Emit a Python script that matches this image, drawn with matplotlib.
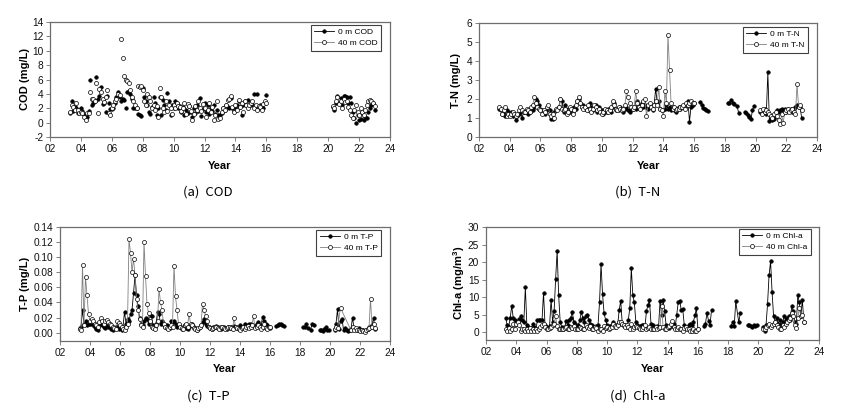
import numpy as np
import matplotlib
matplotlib.use("Agg")
import matplotlib.pyplot as plt
from matplotlib.lines import Line2D

# ---------------- sampling dates (years since 2000) ----------------
DATES_A = [3.3, 3.4, 3.5, 3.6, 3.7, 3.8, 3.9,
           4.0, 4.1, 4.2, 4.3, 4.4, 4.5, 4.6, 4.7, 4.8, 4.9,
           5.0, 5.1, 5.2, 5.3, 5.4, 5.5, 5.6, 5.7, 5.8, 5.9,
           6.0, 6.1, 6.2, 6.3, 6.4, 6.5, 6.6, 6.7, 6.8, 6.9,
           7.0, 7.1, 7.2, 7.3, 7.4, 7.5, 7.6, 7.7, 7.8, 7.9,
           8.0, 8.1, 8.2, 8.3, 8.4, 8.5, 8.6, 8.7, 8.8, 8.9,
           9.0, 9.1, 9.2, 9.3, 9.4, 9.5, 9.6, 9.7, 9.8, 9.9,
           10.0, 10.1, 10.2, 10.3, 10.4, 10.5, 10.6, 10.7, 10.8, 10.9,
           11.0, 11.1, 11.2, 11.3, 11.4, 11.5, 11.6, 11.7, 11.8, 11.9,
           12.0, 12.1, 12.2, 12.3, 12.4, 12.5, 12.6, 12.7, 12.8, 12.9,
           13.0, 13.1, 13.2, 13.3, 13.4, 13.5, 13.6, 13.7, 13.8, 13.9,
           14.0, 14.1, 14.2, 14.3, 14.4, 14.5, 14.6, 14.7, 14.8, 14.9,
           15.0, 15.1, 15.2, 15.3, 15.4, 15.5, 15.6, 15.7, 15.8, 15.9,
           16.0]
DATES_C1 = [16.4, 16.5, 16.6, 16.7, 16.8, 16.9]
DATES_C2 = [18.2, 18.3, 18.4, 18.5, 18.6, 18.7, 18.8, 18.9]
DATES_C3 = [19.3, 19.4, 19.5, 19.6, 19.7, 19.8, 19.9]
DATES_B = [20.3, 20.4, 20.5, 20.6, 20.7, 20.8, 20.9,
           21.0, 21.1, 21.2, 21.3, 21.4, 21.5, 21.6, 21.7, 21.8, 21.9,
           22.0, 22.1, 22.2, 22.3, 22.4, 22.5, 22.6, 22.7, 22.8, 22.9,
           23.0]
NA = float("nan")

YEAR_TICKS = [2, 4, 6, 8, 10, 12, 14, 16, 18, 20, 22, 24]
YEAR_LABELS = ["02", "04", "06", "08", "10", "12", "14", "16", "18", "20", "22", "24"]

# ---------------- (a) COD ----------------
COD_0M_A = [1.4, 3.0, 1.6, 2.2, 2.0, 1.3, 1.7,
            2.0, 1.6, 1.2, 0.8, 0.8, 1.6, 5.9, 2.5, 2.8, 3.0,
            6.3, 3.3, 3.7, 5.0, 2.6, 2.7, 1.5, 3.7, 2.8, 1.9,
            1.9, 2.0, 2.8, 3.5, 4.2, 3.6, 3.0, 3.3, 3.1, 2.1,
            4.3, 4.4, 4.0, 3.3, 2.0, 2.1, 2.0, 1.2, 1.0, 0.9,
            4.8, 3.5, 3.0, 2.5, 1.5, 1.2, 2.2, 3.5, 2.8, 1.0,
            2.0, 3.5, 1.0, 3.2, 2.5, 1.8, 4.1, 3.0, 1.0, 2.5,
            2.0, 3.0, 2.8, 2.0, 2.3, 1.5, 2.2, 1.0, 1.8, 1.4,
            2.3, 1.5, 0.8, 2.0, 1.3, 2.4, 1.6, 3.4, 0.9, 1.9,
            2.7, 1.5, 2.5, 1.2, 2.0, 1.6, 2.4, 1.2, 1.8, 1.0,
            1.0, 1.4, 2.0, 1.8, 2.5, 2.2, 2.0, 3.4, 2.0, 1.6,
            2.2, 2.5, 3.0, 2.2, 1.0, 2.5, 3.0, 2.5, 3.2, 2.4,
            2.4, 2.6, 4.0, 2.0, 4.0, 2.0, 2.4, 2.2, 2.0, 2.8,
            3.8]
COD_40M_A = [1.5, 2.5, 2.2, 1.8, 2.8, 1.8, 1.3,
             1.5, 1.3, 0.8, 0.3, 1.3, 1.3, 4.3, 3.3, 3.3, 3.0,
             5.5, 1.4, 4.7, 4.2, 3.3, 2.9, 3.6, 4.5, 1.3, 1.1,
             2.0, 2.5, 3.0, 3.3, 4.0, 3.8, 11.7, 9.0, 6.5, 6.0,
             5.8, 5.5, 4.6, 3.5, 3.0, 2.5, 2.0, 5.1, 5.0, 5.1,
             4.5, 3.0, 2.5, 4.0, 3.5, 3.0, 2.0, 2.5, 1.8, 2.3,
             0.8, 4.8, 3.5, 2.0, 1.5, 3.0, 1.6, 2.5, 2.0, 1.2,
             2.5, 2.0, 2.8, 2.3, 2.2, 1.6, 2.0, 2.8, 1.2, 2.6,
             2.3, 1.6, 0.4, 1.2, 2.3, 1.8, 3.0, 2.0, 1.6, 2.6,
             2.0, 0.8, 1.8, 2.8, 1.5, 2.2, 0.3, 1.0, 3.0, 0.5,
             0.6, 1.5, 2.0, 1.8, 2.5, 3.1, 3.3, 3.7, 2.2, 1.5,
             2.5, 1.8, 3.2, 2.2, 2.7, 1.5, 3.0, 2.4, 2.0, 2.5,
             2.8, 3.0, 2.0, 2.5, 1.7, 2.3, 2.2, 1.8, 2.6, 3.0,
             2.7]
COD_0M_B = [2.2, 1.8, 2.7, 3.7, 2.8, 3.4, 2.5,
            3.7, 3.7, 3.5, 2.7, 3.6, 2.8, 1.5, 0.6, 0.0, 1.1,
            0.3, 0.5, 1.3, 0.3, 0.8, 0.7, 1.5, 2.0, 2.5, 2.8,
            1.8]
COD_40M_B = [2.3, 2.0, 3.0, 3.5, 2.6, 3.0, 2.0,
             3.3, 2.9, 3.0, 2.2, 1.8, 1.0, 0.7, 1.8, 2.5, 1.5,
             1.1, 2.0, 1.5, 1.0, 1.8, 2.5, 3.0, 3.1, 3.0, 2.7,
             2.3]

# ---------------- (b) T-N ----------------
TN_0M_A = [1.5, 1.4, 1.2, 1.3, 1.1, 1.4, 1.3,
           1.2, 1.3, 1.1, 1.2, 0.9, 1.1, 1.2, 1.3, 1.0, 1.3,
           1.3, 1.4, 1.2, 1.3, 1.5, 1.4, 1.6, 2.0, 1.9, 1.7,
           1.5, 1.4, 1.3, 1.2, 1.4, 1.5, 1.4, 0.95, 0.95, 1.3,
           1.4, 1.5, 1.6, 2.0, 1.9, 1.3, 1.7, 1.4, 1.5, 1.3,
           1.4, 1.3, 1.6, 1.5, 1.9, 2.0, 1.8, 1.6, 1.7, 1.5,
           1.5, 1.4, 1.8, 1.6, 1.4, 1.5, 1.7, 1.3, 1.6, 1.4,
           1.4, 1.2, 1.3, 1.3, 1.5, 1.4, 1.3, 1.6, 1.8, 1.4,
           1.5, 1.4, 1.6, 1.5, 1.3, 1.5, 1.6, 1.4, 1.3, 1.5,
           1.5, 1.6, 1.5, 1.9, 1.7, 1.5, 1.8, 1.6, 1.7, 1.6,
           1.5, 1.7, 1.6, 1.4, 1.7, 2.55, 1.8, 1.9, 1.5, 1.4,
           1.4, 1.5, 1.7, 1.5, 1.6, 1.4, 1.6, 1.4, 1.3, 1.5,
           1.6, 1.5, 1.6, 1.6, 1.6, 1.7, 1.9, 0.8, 1.6, 1.7,
           1.8]
TN_40M_A = [1.6, 1.5, 1.2, 1.4, 1.6, 1.1, 1.2,
            1.1, 1.2, 1.3, 1.2, 1.1, 1.2, 1.4, 1.6, 1.4, 1.3,
            1.3, 1.5, 1.4, 1.3, 1.6, 1.7, 2.1, 1.8, 1.6, 1.5,
            1.4, 1.2, 1.4, 1.3, 1.6, 1.7, 1.2, 1.1, 1.2, 1.0,
            1.5, 1.4, 1.6, 2.0, 1.5, 1.4, 1.5, 1.2, 1.3, 1.6,
            1.5, 1.2, 1.4, 1.7, 1.9, 2.1, 1.8, 1.6, 1.5, 1.6,
            1.4, 1.7, 1.5, 1.3, 1.5, 1.7, 1.6, 1.4, 1.5, 1.3,
            1.2, 1.3, 1.5, 1.4, 1.3, 1.4, 1.6, 1.9, 1.7, 1.5,
            1.4, 1.6, 1.5, 1.4, 1.5, 1.7, 2.4, 2.1, 1.8, 1.6,
            1.5, 1.6, 2.4, 1.8, 1.6, 1.5, 1.7, 1.9, 2.0, 1.1,
            1.7, 1.8, 1.6, 1.5, 1.7, 1.9, 1.7, 2.65, 1.5, 1.4,
            1.1, 2.4, 1.8, 5.35, 3.55, 1.8, 1.5, 1.6, 1.4, 1.5,
            1.5, 1.6, 1.6, 1.7, 1.5, 1.8, 1.7, 1.8, 1.9, 1.8,
            1.8]
TN_0M_C1 = [1.85, 1.7, 1.55, 1.45, 1.4, 1.35]
TN_0M_C2 = [1.8, 1.8, 1.95, 1.8, 1.75, NA, 1.65, 1.25]
TN_0M_C3 = [1.3, 1.25, 1.15, 1.05, 0.95, 1.4, 1.65]
TN_0M_B = [1.3, 1.25, 1.3, 1.5, 1.2, 3.4, 0.85,
           1.0, 0.9, 0.95, 1.1, 1.4, 1.3, 1.4, 1.45, 1.4, 1.5,
           1.3, 1.5, 1.4, 1.45, 1.3, 1.5, 1.6, 1.7, 1.6, 1.6,
           1.0]
TN_40M_B = [1.4, 1.2, 1.5, 1.3, 1.4, 1.3, 1.2,
            1.1, 1.0, 1.2, 1.3, 1.1, 0.9, 0.7, 1.2, 0.75, 1.3,
            1.4, 1.5, 1.3, 1.4, 1.5, 1.3, 1.2, 2.8, 1.6, 1.7,
            1.4]

# ---------------- (c) T-P ----------------
TP_0M_A = [0.006, 0.008, 0.030, 0.012, 0.015, 0.010, 0.012,
           0.012, 0.015, 0.010, 0.008, 0.005, 0.003, 0.010, 0.012, 0.010, 0.008,
           0.006, 0.010, 0.008, 0.007, 0.005, 0.004, 0.006, 0.008, 0.007, 0.005,
           0.006, 0.004, 0.008, 0.028, 0.012, 0.018, 0.015, 0.025, 0.030, 0.052,
           0.076, 0.050, 0.035, 0.020, 0.012, 0.010, 0.015, 0.020, 0.018, 0.012,
           0.023, 0.022, 0.010, 0.008, 0.012, 0.027, 0.025, 0.012, 0.015, 0.010,
           0.008, 0.010, 0.008, 0.006, 0.015, 0.014, 0.016, 0.012, 0.008, 0.010,
           0.007, 0.005, 0.008, 0.010, 0.006, 0.005, 0.007, 0.010, 0.012, 0.008,
           0.006, 0.004, 0.005, 0.008, 0.010, 0.014, 0.018, 0.012, 0.009, 0.008,
           0.006, 0.005, 0.007, 0.008, 0.009, 0.007, 0.006, 0.005, 0.007, 0.008,
           0.006, 0.005, 0.008, 0.006, 0.007, 0.008, 0.009, 0.007, 0.006, 0.008,
           0.010, 0.008, 0.007, 0.012, 0.009, 0.010, 0.011, 0.012, 0.010, 0.009,
           0.008, 0.012, 0.014, 0.010, 0.008, 0.021, 0.015, 0.012, 0.010, 0.008,
           0.006]
TP_40M_A = [0.005, 0.004, 0.090, 0.010, 0.074, 0.050, 0.025,
            0.016, 0.018, 0.015, 0.012, 0.010, 0.008, 0.014, 0.019, 0.016, 0.012,
            0.015, 0.017, 0.014, 0.012, 0.010, 0.008, 0.006, 0.005, 0.015, 0.013,
            0.010, 0.007, 0.005, 0.004, 0.008, 0.012, 0.124, 0.106, 0.080, 0.098,
            0.076, 0.045, 0.030, 0.018, 0.010, 0.008, 0.120, 0.075, 0.038, 0.026,
            0.015, 0.008, 0.006, 0.005, 0.010, 0.015, 0.058, 0.040, 0.030, 0.012,
            0.008, 0.006, 0.005, 0.007, 0.010, 0.008, 0.089, 0.048, 0.030, 0.012,
            0.008, 0.006, 0.005, 0.010, 0.012, 0.008, 0.025, 0.012, 0.010, 0.006,
            0.005, 0.004, 0.006, 0.008, 0.010, 0.038, 0.030, 0.022, 0.015, 0.008,
            0.006, 0.005, 0.006, 0.008, 0.007, 0.006, 0.005, 0.007, 0.008, 0.006,
            0.005, 0.006, 0.007, 0.008, 0.006, 0.005, 0.019, 0.008, 0.006, 0.005,
            0.004, 0.006, 0.008, 0.005, 0.007, 0.009, 0.006, 0.008, 0.010, 0.022,
            0.006, 0.008, 0.010, 0.007, 0.005, 0.008, 0.012, 0.006, 0.005, 0.008,
            0.007]
TP_0M_C1 = [0.009, 0.010, 0.011, 0.012, 0.010, 0.009]
TP_0M_C2 = [0.008, 0.007, 0.012, 0.006, NA, 0.004, 0.011, 0.010]
TP_0M_C3 = [0.003, 0.004, 0.002, 0.005, 0.007, 0.004, 0.003]
TP_0M_B = [0.004, 0.012, 0.031, 0.005, 0.016, 0.018, 0.004,
           0.006, 0.003, 0.002, 0.003, 0.005, 0.020, 0.006, 0.005, 0.004, 0.006,
           0.003, 0.004, 0.003, 0.002, 0.004, 0.005, 0.007, 0.008, 0.010, 0.020,
           0.005]
TP_40M_B = [0.005, 0.008, 0.006, NA, 0.033, NA, NA,
            NA, NA, NA, NA, 0.003, 0.008, 0.004, 0.006, 0.003, 0.004,
            0.002, 0.003, 0.002, 0.001, 0.003, 0.005, 0.006, 0.045, 0.008, 0.012,
            0.006]

# ---------------- (d) Chl-a ----------------
CHL_0M_A = [4.2, 2.0, 1.5, 4.2, 7.5, 4.0, 3.5,
            2.5, 3.0, 3.8, 4.5, 3.5, 3.0, 12.8, 2.0, 1.5, 1.0,
            1.2, 2.5, 1.5, 1.0, 3.4, 3.5, 3.5, 3.4, 11.3, 2.0,
            1.5, 1.2, 1.8, 9.3, 3.0, 6.0, 15.2, 23.2, 10.6, 3.0,
            1.5, 1.0, 1.5, 3.2, 2.0, 3.5, 4.2, 5.8, 3.0, 2.5,
            1.5, 2.0, 3.5, 5.8, 4.0, 3.0, 4.5, 5.0, 3.5, 2.5,
            2.0, 1.5, 1.2, 1.8, 2.0, 8.5, 19.5, 10.8, 5.5, 3.5,
            2.0, 1.5, 1.8, 2.0, 3.0, 1.5, 2.0, 2.2, 6.3, 9.0,
            2.5, 1.8, 2.0, 1.5, 3.5, 6.8, 18.3, 10.5, 8.5, 3.0,
            2.0, 1.5, 1.8, 2.2, 2.0, 1.5, 6.0, 7.8, 9.2, 2.5,
            2.0, 1.5, 1.2, 1.8, 1.5, 9.0, 5.0, 9.3, 6.0, 2.0,
            1.5, 1.2, 2.0, 1.8, 2.5, 1.5, 5.0, 8.5, 9.0, 6.3,
            6.5, 2.0, 1.5, 1.2, 2.0, 2.5, 2.2, 3.0, 4.8, 6.8,
            1.0]
CHL_40M_A = [0.8, 0.5, 1.2, 0.5, 0.8, 2.5, 1.0,
             2.5, 3.0, 2.0, 0.5, 0.8, 1.0, 0.5, 0.8, 0.4, 1.2,
             0.5, 0.8, 0.3, 1.0, 0.5, 0.8, 1.5, 2.0, 2.5, 1.5,
             1.0, 0.8, 1.2, 1.5, 2.0, 2.5, 4.5, 1.8, 1.0, 0.8,
             1.0, 0.8, 1.2, 1.5, 0.8, 1.0, 1.5, 1.2, 1.8, 0.8,
             1.0, 0.8, 1.5, 1.2, 1.0, 0.8, 2.2, 1.5, 1.2, 1.8,
             1.0, 0.8, 1.5, 1.2, 0.5, 0.8, 1.0, 0.5, 1.8, 1.2,
             1.5, 0.8, 1.2, 1.5, 2.5, 1.8, 1.5, 2.0, 2.8, 3.0,
             2.5, 2.0, 1.5, 2.2, 1.5, 0.8, 2.5, 1.0, 1.5, 1.8,
             1.5, 1.2, 0.8, 1.0, 1.5, 2.0, 0.8, 1.2, 1.5, 1.0,
             0.8, 1.0, 1.5, 0.8, 1.2, 1.5, 7.5, 1.5, 0.8, 1.0,
             1.5, 1.8, 2.5, 3.2, 1.5, 1.0, 0.8, 1.5, 1.0, 0.8,
             0.5, 1.2, 1.5, 1.0, 0.8, 0.5, 0.3, 0.8, 0.5, 0.3,
             0.8]
CHL_0M_C1 = [1.8, 2.5, 5.5, 3.3, 2.2, 6.3]
CHL_0M_C2 = [1.8, 3.0, 1.8, 8.8, NA, 2.8, 5.5, NA]
CHL_0M_C3 = [2.2, 2.0, 1.8, 1.5, 2.0, 1.8, 2.0]
CHL_0M_B = [1.5, 0.5, 2.0, 8.0, 16.2, 20.2, 11.5,
            4.5, 3.0, 4.0, 2.5, 3.5, 2.0, 3.0, 4.5, 3.5, 4.0,
            4.5, 3.5, 7.5, 6.0, 3.0, 2.5, 10.5, 8.5, 4.5, 9.2,
            3.0]
CHL_40M_B = [1.0, 0.8, 1.5, 2.0, 2.5, 1.5, 2.0,
             2.5, 3.0, 2.0, 1.5, 1.0, 0.8, 2.0, 1.5, 2.5, 3.0,
             3.5, 4.0, 5.5, 4.5, 2.0, 1.2, 4.0, 7.0, 4.5, 5.0,
             3.0]

# ---------------- styling ----------------
plt.rcParams["font.family"] = ["Liberation Sans", "DejaVu Sans"]
plt.rcParams["mathtext.default"] = "regular"

W, H = 842, 412
fig = plt.figure(figsize=(W / 100, H / 100), dpi=100)
fig.patch.set_facecolor("white")

FRAME = "#6e6e6e"
S0 = dict(color="black", lw=0.6, marker="o", ms=2.6, mfc="black",
          mec="black", mew=0.4)
S40 = dict(color="#808080", lw=0.6, marker="o", ms=2.9, mfc="white",
           mec="black", mew=0.5)


def px_axes(l, t, r, b):
    return fig.add_axes([l / W, 1 - b / H, (r - l) / W, (b - t) / H])


def ftext(x, y, s, **kw):
    fig.text(x / W, 1 - y / H, s, ha="center", va="center", **kw)


def draw(ax, dates, vals, style, lines=True):
    d = np.asarray(dates, float)
    v = np.asarray(vals, float)
    m = ~np.isnan(v)
    st = dict(style)
    if not lines:
        st["ls"] = "none"
    ax.plot(d[m], v[m], **st)


def setup(ax, ylim, yticks, yfmt):
    ax.set_xlim(2, 24)
    ax.set_ylim(*ylim)
    ax.set_xticks(YEAR_TICKS)
    ax.set_xticklabels(YEAR_LABELS)
    ax.set_yticks(yticks)
    ax.set_yticklabels([yfmt.format(v) for v in yticks])
    for s in ax.spines.values():
        s.set_color(FRAME)
        s.set_linewidth(0.9)
    ax.tick_params(direction="out", length=3, width=0.6, color=FRAME,
                   labelsize=7.3, labelcolor="#111111", pad=2,
                   top=False, right=False)


def legend(ax, x_right, y_top, labels):
    h = [Line2D([], [], **S0), Line2D([], [], **S40)]
    lg = ax.legend(h, labels, loc="upper right",
                   bbox_to_anchor=(x_right / W, 1 - y_top / H),
                   bbox_transform=fig.transFigure, borderaxespad=0,
                   fontsize=6, frameon=True, fancybox=False,
                   edgecolor="#404040", framealpha=1, borderpad=0.4,
                   handlelength=2.4, handletextpad=0.5, labelspacing=0.4,
                   numpoints=1)
    lg.get_frame().set_linewidth(0.8)


BOLD = dict(fontsize=8, fontweight="bold")
CAP = dict(fontsize=9.5, family=["Noto Sans CJK KR", "DejaVu Sans"])

# (a) COD
ax = px_axes(50, 22, 390, 137)
draw(ax, DATES_A, COD_0M_A, S0, lines=False)
draw(ax, DATES_B, COD_0M_B, S0, lines=False)
draw(ax, DATES_A, COD_40M_A, S40, lines=False)
draw(ax, DATES_B, COD_40M_B, S40, lines=False)
setup(ax, (-2, 14), list(range(-2, 15, 2)), "{:d}")
legend(ax, 381, 25, ["0 m COD", "40 m COD"])
ftext(25, 79, "COD (mg/L)", rotation=90, **BOLD)
ftext(220, 166, "Year", **BOLD)
ftext(208, 192, "(a)  COD", **CAP)

# (b) T-N
ax = px_axes(479, 23, 817, 137)
for d, v in [(DATES_A, TN_0M_A), (DATES_C1, TN_0M_C1), (DATES_C2, TN_0M_C2),
             (DATES_C3, TN_0M_C3), (DATES_B, TN_0M_B)]:
    draw(ax, d, v, S0)
draw(ax, DATES_A, TN_40M_A, S40)
draw(ax, DATES_B, TN_40M_B, S40)
setup(ax, (0, 6), list(range(0, 7)), "{:d}")
legend(ax, 808, 27, ["0 m T-N", "40 m T-N"])
ftext(456, 80, "T-N (mg/L)", rotation=90, **BOLD)
ftext(649, 166, "Year", **BOLD)
ftext(638, 192, "(b)  T-N", **CAP)

# (c) T-P
ax = px_axes(60, 227, 390, 341)
for d, v in [(DATES_A, TP_0M_A), (DATES_C1, TP_0M_C1), (DATES_C2, TP_0M_C2),
             (DATES_C3, TP_0M_C3), (DATES_B, TP_0M_B)]:
    draw(ax, d, v, S0)
draw(ax, DATES_A, TP_40M_A, S40)
draw(ax, DATES_B, TP_40M_B, S40)
setup(ax, (-0.011, 0.14), [0, 0.02, 0.04, 0.06, 0.08, 0.10, 0.12, 0.14], "{:.2f}")
legend(ax, 381, 230, ["0 m T-P", "40 m T-P"])
ftext(25, 284, "T-P (mg/L)", rotation=90, **BOLD)
ftext(225, 369, "Year", **BOLD)
ftext(208, 396, "(c)  T-P", **CAP)

# (d) Chl-a
ax = px_axes(486, 227, 819, 340)
for d, v in [(DATES_A, CHL_0M_A), (DATES_C1, CHL_0M_C1), (DATES_C2, CHL_0M_C2),
             (DATES_C3, CHL_0M_C3), (DATES_B, CHL_0M_B)]:
    draw(ax, d, v, S0)
draw(ax, DATES_A, CHL_40M_A, S40)
draw(ax, DATES_B, CHL_40M_B, S40)
setup(ax, (-2.2, 30), list(range(0, 31, 5)), "{:d}")
legend(ax, 811, 229, ["0 m Chl-a", "40 m Chl-a"])
ftext(459, 283, "Chl-a (mg/m$^3$)", rotation=90, **BOLD)
ftext(653, 369, "Year", **BOLD)
ftext(638, 396, "(d)  Chl-a", **CAP)

fig.savefig("out.png", dpi=100, facecolor="white")
